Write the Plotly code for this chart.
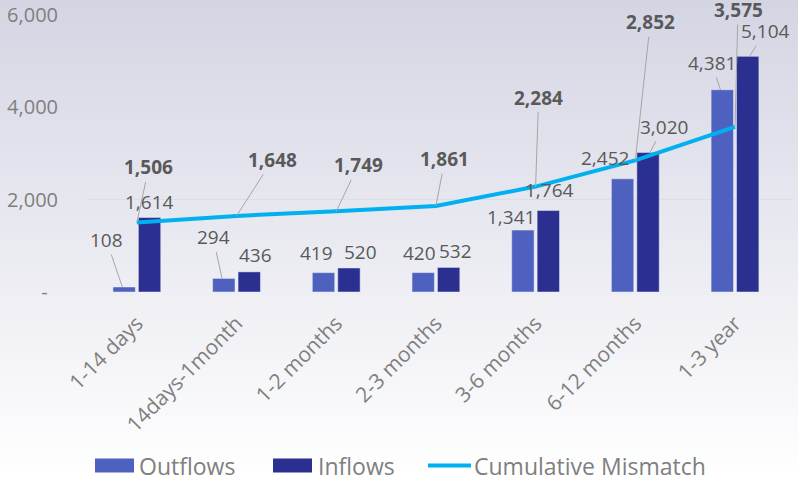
import plotly.graph_objects as go

# ---------------- data ----------------
categories = ["1-14 days", "14days-1month", "1-2 months", "2-3 months",
              "3-6 months", "6-12 months", "1-3 year"]
outflows = [108, 294, 419, 420, 1341, 2452, 4381]
inflows = [1614, 436, 520, 532, 1764, 3020, 5104]
cumulative = [1506, 1648, 1749, 1861, 2284, 2852, 3575]
y_tick_vals = [0, 2000, 4000, 6000]
y_tick_text = ["-  ", "2,000", "4,000", "6,000"]
series_names = ["Outflows", "Inflows", "Cumulative Mismatch"]

# ---------------- styles ----------------
C_OUT = "#4f61be"
C_IN = "#2b2f8f"
C_LINE = "#00b0f0"
C_TXT = "#595959"
C_AX = "#7f7f7f"
C_LEAD = "#a6a6a6"
FONT = "Open Sans"

# label offsets in pixels (dx, dy, leader line)
out_lab = [(-16, -47, True), (-9, -41, True), (-5, -20, False), (-2, -20, False),
           (-10, -13, False), (-16, -21, False), (-9, -27, True)]
in_lab = [(-2, -15, False), (4, -17, False), (10, -16, False), (5, -16, False),
          (-1, -21, False), (14, -26, True), (16, -25, True)]
cum_lab = [(12, -55, True), (36, -56, True), (22, -46, True), (9, -47, True),
           (3, -89, True), (15, -138, True), (3, -117, True)]
BAR_SHIFT = 14.5

W, H = 798, 479
ML, MR, MT, MB = 87, 6, 15, 187
pw, ph = W - ML - MR, H - MT - MB


def px(x):
    return (x - ML) / pw


def py(y):
    return (H - MB - y) / ph


fig = go.Figure()
fig.add_trace(go.Bar(x=categories, y=outflows, name=series_names[0], marker_color=C_OUT,
                     hoverinfo="skip"))
fig.add_trace(go.Bar(x=categories, y=inflows, name=series_names[1], marker_color=C_IN,
                     hoverinfo="skip"))
fig.add_trace(go.Scatter(x=categories, y=cumulative, mode="lines", name=series_names[2],
                         line=dict(color=C_LINE, width=4), hoverinfo="skip"))


def add_labels(values, offsets, shift, bold):
    for cat, v, (dx, dy, lead) in zip(categories, values, offsets):
        txt = f"{v:,}"
        if bold:
            txt = f"<b>{txt}</b>"
        if lead:
            fig.add_annotation(x=cat, y=v, xshift=shift, text=txt, showarrow=True,
                               arrowhead=0, arrowwidth=1, arrowcolor=C_LEAD, standoff=0,
                               ax=dx, ay=dy, font=dict(family=FONT, size=19, color=C_TXT))
        else:
            fig.add_annotation(x=cat, y=v, xshift=shift + dx, yshift=-dy, text=txt,
                               showarrow=False, xanchor="center", yanchor="middle",
                               font=dict(family=FONT, size=19, color=C_TXT))


add_labels(outflows, out_lab, -BAR_SHIFT, False)
add_labels(inflows, in_lab, BAR_SHIFT, False)
add_labels(cumulative, cum_lab, 0, True)

# background gradient
top = (212, 213, 227)
bot = (255, 255, 255)
n = 60
shapes = []
for i in range(n):
    p0 = H * i / n
    p1 = H * (i + 1) / n + 1
    t = (i + 0.5) / n
    c = tuple(round(top[k] + (bot[k] - top[k]) * t) for k in range(3))
    shapes.append(dict(type="rect", xref="paper", yref="paper",
                       x0=px(-20), x1=px(W + 20), y0=py(p1), y1=py(p0),
                       fillcolor="rgb(%d,%d,%d)" % c, line=dict(width=0), layer="below"))

# custom legend
LEG_Y = 465.5
legend_items = [
    (series_names[0], C_OUT, "rect", 95, 134, 137),
    (series_names[1], C_IN, "rect", 273, 312, 316),
    (series_names[2], C_LINE, "line", 428, 471, 472),
]
for name, col, kind, x0, x1, tx in legend_items:
    if kind == "rect":
        shapes.append(dict(type="rect", xref="paper", yref="paper",
                           x0=px(x0), x1=px(x1), y0=py(LEG_Y + 7), y1=py(LEG_Y - 7),
                           fillcolor=col, line=dict(width=0)))
    else:
        shapes.append(dict(type="line", xref="paper", yref="paper",
                           x0=px(x0), x1=px(x1), y0=py(LEG_Y), y1=py(LEG_Y),
                           line=dict(color=col, width=4)))
    fig.add_annotation(xref="paper", yref="paper", x=px(tx), y=py(LEG_Y), text=name,
                       showarrow=False, xanchor="left", yanchor="middle",
                       font=dict(family=FONT, size=23, color=C_AX))

fig.update_layout(
    width=W, height=H,
    margin=dict(l=ML, r=MR, t=MT, b=MB, pad=0, autoexpand=False),
    paper_bgcolor="white", plot_bgcolor="rgba(0,0,0,0)",
    shapes=shapes,
    barmode="group", bargap=0.49, bargroupgap=0.12,
    font=dict(family=FONT, color=C_AX),
    showlegend=False,
    xaxis=dict(type="category", tickangle=-45, tickfont=dict(family=FONT, size=21, color=C_AX),
               showgrid=False, showline=False, ticks="", ticklabelstandoff=14,
               automargin=False),
    yaxis=dict(range=[0, 6000], tickvals=y_tick_vals, ticktext=y_tick_text,
               tickfont=dict(family=FONT, size=20, color=C_AX),
               showgrid=True, gridcolor="#dcdde5", gridwidth=1, zeroline=False,
               showline=False, ticks="", ticklabelstandoff=28, automargin=False),
)

fig.write_html("out.html", config={"displayModeBar": False},
               post_script="document.body.style.margin='0px';document.body.style.overflow='hidden';")
